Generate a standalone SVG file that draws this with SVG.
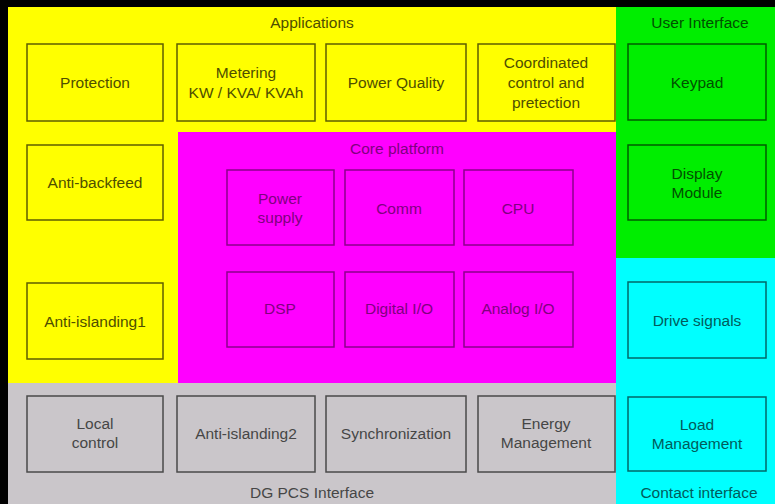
<svg xmlns="http://www.w3.org/2000/svg" width="775" height="504" viewBox="0 0 775 504">
<style>
text{font-family:"Liberation Sans",Arial,sans-serif;font-size:15.5px;text-anchor:middle;dominant-baseline:central}
.b{stroke-width:1.5}
.y rect{fill:#ffff00;stroke:#5e5e00}.y text{fill:#4e4e00}
.m rect{fill:#ff00ff;stroke:#8c008c}.m text{fill:#800080}
.g rect{fill:#00ee00;stroke:#005c00}.g text{fill:#005000}
.c rect{fill:#00ffff;stroke:#006868}.c text{fill:#005c5c}
.s rect{fill:#cac6ca;stroke:#4a4a4a}.s text{fill:#464646}
</style>
<rect x="0" y="0" width="775" height="504" fill="#000"/>
<g id="applications" class="y"><rect x="8" y="7" width="608" height="376" style="stroke:none"/><text x="312" y="22">Applications</text></g>
<g id="core-platform" class="m"><rect x="178" y="132" width="438" height="251" style="stroke:none"/><text x="397" y="148">Core platform</text></g>
<g id="user-interface" class="g"><rect x="616" y="7" width="159" height="251" style="stroke:none"/><text x="700" y="22">User Interface</text></g>
<g id="contact-interface" class="c"><rect x="616" y="258" width="159" height="246" style="stroke:none"/><text x="699" y="492">Contact interface</text></g>
<g id="dg-pcs-interface" class="s"><rect x="8" y="383" width="608" height="121" style="stroke:none"/><text x="312" y="492">DG PCS Interface</text></g>

<g id="protection" class="y b"><rect x="27" y="44" width="136" height="77"/><text x="95" y="82">Protection</text></g>
<g id="metering" class="y b"><rect x="177" y="44" width="138" height="77"/><text x="246" y="72">Metering</text><text x="246" y="92">KW / KVA/ KVAh</text></g>
<g id="power-quality" class="y b"><rect x="326" y="44" width="140" height="77"/><text x="396" y="82">Power Quality</text></g>
<g id="coordinated" class="y b"><rect x="478" y="44" width="137" height="77"/><text x="546" y="62">Coordinated</text><text x="546" y="82">control and</text><text x="546" y="102">pretection</text></g>
<g id="anti-backfeed" class="y b"><rect x="27" y="145" width="136" height="75"/><text x="95" y="182">Anti-backfeed</text></g>
<g id="anti-islanding1" class="y b"><rect x="27" y="283" width="136" height="76"/><text x="95" y="321">Anti-islanding1</text></g>

<g id="power-supply" class="m b"><rect x="227" y="170" width="107" height="75"/><text x="280" y="198">Power</text><text x="280" y="217">supply</text></g>
<g id="comm" class="m b"><rect x="345" y="170" width="109" height="75"/><text x="399" y="208">Comm</text></g>
<g id="cpu" class="m b"><rect x="464" y="170" width="109" height="75"/><text x="518" y="208">CPU</text></g>
<g id="dsp" class="m b"><rect x="227" y="272" width="107" height="75"/><text x="280" y="308">DSP</text></g>
<g id="digital-io" class="m b"><rect x="345" y="272" width="109" height="75"/><text x="399" y="308">Digital I/O</text></g>
<g id="analog-io" class="m b"><rect x="464" y="272" width="109" height="75"/><text x="518" y="308">Analog I/O</text></g>

<g id="keypad" class="g b"><rect x="628" y="44" width="138" height="76"/><text x="697" y="82">Keypad</text></g>
<g id="display-module" class="g b"><rect x="628" y="145" width="138" height="75"/><text x="697" y="173">Display</text><text x="697" y="192">Module</text></g>

<g id="drive-signals" class="c b"><rect x="628" y="282" width="138" height="76"/><text x="697" y="320">Drive signals</text></g>
<g id="load-management" class="c b"><rect x="628" y="397" width="138" height="74"/><text x="697" y="424">Load</text><text x="697" y="443">Management</text></g>

<g id="local-control" class="s b"><rect x="27" y="396" width="136" height="76"/><text x="95" y="423">Local</text><text x="95" y="442">control</text></g>
<g id="anti-islanding2" class="s b"><rect x="177" y="396" width="138" height="76"/><text x="246" y="433">Anti-islanding2</text></g>
<g id="synchronization" class="s b"><rect x="326" y="396" width="140" height="76"/><text x="396" y="433">Synchronization</text></g>
<g id="energy-management" class="s b"><rect x="478" y="396" width="137" height="76"/><text x="546" y="423">Energy</text><text x="546" y="442">Management</text></g>
<g id="connectors"/>
</svg>
